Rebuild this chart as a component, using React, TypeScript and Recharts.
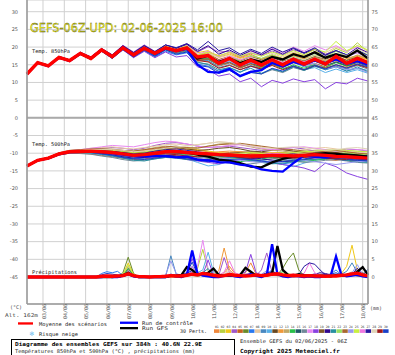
import { LineChart, Line, XAxis, YAxis, CartesianGrid, ReferenceLine } from "recharts";

// time axis: hours since 02/06 06Z, 6h step
const HOURS = [
  0, 6, 12, 18, 24, 30, 36, 42, 48, 54, 60, 66, 72, 78, 84, 90, 96, 102, 108, 114, 120, 126,
  132, 138, 144, 150, 156, 162, 168, 174, 180, 186, 192, 198, 204, 210, 216, 222, 228, 234,
  240, 246, 252, 258, 264, 270, 276, 282, 288, 294, 300, 306, 312, 318, 324, 330, 336, 342,
  348, 354, 360, 366, 372, 378, 384,
];
const DAY_TICKS = [18, 42, 66, 90, 114, 138, 162, 186, 210, 234, 258, 282, 306, 330, 354, 378];
const DAY_LABELS = [
  "03/06", "04/06", "05/06", "06/06", "07/06", "08/06", "09/06", "10/06",
  "11/06", "12/06", "13/06", "14/06", "15/06", "16/06", "17/06", "18/06",
];
const Y_TICKS = [-45, -40, -35, -30, -25, -20, -15, -10, -5, 0, 5, 10, 15, 20, 25, 30];

// temperatures every 12h (33 values)
const MEAN_850 = [12.4, 15.6, 14.7, 17.1, 16.2, 18.2, 16.8, 19.2, 17.3, 19.8, 17.8, 19.7, 18.2, 19.8, 19.0, 19.8, 17.2, 17.6, 15.4, 16.8, 14.9, 16.3, 14.9, 16.4, 15.0, 16.6, 15.2, 16.6, 15.2, 17.4, 15.4, 16.8, 15.6];
const CTRL_850 = [12.4, 15.5, 14.6, 17.0, 16.1, 18.1, 16.9, 19.1, 17.4, 19.9, 17.6, 19.8, 18.0, 19.6, 18.8, 19.5, 15.0, 13.0, 12.8, 13.8, 11.8, 13.0, 13.5, 15.5, 14.5, 15.8, 15.0, 16.2, 15.5, 16.5, 15.3, 16.0, 15.0];
const GFS_850 = [12.4, 15.6, 14.7, 17.1, 16.2, 18.2, 16.8, 19.2, 17.3, 19.8, 17.8, 19.7, 18.2, 19.8, 19.0, 19.8, 16.8, 17.5, 15.8, 16.8, 15.5, 16.5, 15.8, 17.2, 16.5, 18.0, 17.2, 18.5, 17.0, 18.0, 17.2, 19.0, 16.8];

const MEAN_500 = [-13.6, -12.0, -11.4, -10.2, -9.6, -9.5, -9.4, -9.6, -9.8, -10.2, -10.6, -10.4, -10.0, -9.6, -9.5, -9.8, -10.0, -10.2, -10.4, -10.5, -10.6, -10.8, -10.7, -10.6, -10.6, -10.8, -10.6, -10.4, -10.6, -10.9, -11.0, -11.2, -11.4];
const CTRL_500 = [-13.6, -12.0, -11.5, -10.3, -9.7, -9.6, -9.5, -9.7, -10.0, -10.4, -10.8, -10.9, -10.8, -10.8, -11.2, -11.0, -11.8, -12.0, -12.5, -12.6, -13.2, -13.6, -14.6, -15.0, -15.2, -12.8, -10.6, -11.0, -11.2, -10.8, -11.0, -11.4, -11.6];
const GFS_500 = [-13.6, -12.0, -11.4, -10.2, -9.6, -9.5, -9.4, -9.6, -9.8, -10.2, -10.6, -10.4, -10.0, -9.6, -9.5, -9.8, -10.4, -11.0, -11.8, -12.2, -12.8, -13.8, -14.0, -12.6, -11.6, -11.0, -10.6, -10.2, -10.0, -10.2, -10.4, -10.6, -11.0];

// precipitation (mm) every 6h (65 values)
const MEAN_RR = [
  0, 0, 0, 0, 0, 0, 0, 0, 0, 0, 0, 0, 0,
  0, 0.2, 0.3, 0.2, 0.3, 0.4, 0.9, 0.4, 0.1, 0.1, 0, 0.1, 0.1,
  0.2, 0.4, 0.3, 0.3, 0.5, 0.8, 0.6, 1.0, 0.8, 0.5, 0.3, 0.4, 0.7,
  0.5, 0.4, 0.3, 0.4, 0.6, 0.4, 0.5, 0.8, 0.9, 0.6, 0.4, 0.5, 0.4,
  0.3, 0.4, 0.3, 0.3, 0.2, 0.3, 0.3, 0.5, 0.6, 0.9, 1.1, 0.6, 0.3,
];
const CTRL_RR = [
  0, 0, 0, 0, 0, 0, 0, 0, 0, 0, 0, 0, 0,
  0, 0, 0.2, 0, 0, 0.3, 0.8, 0.2, 0, 0, 0, 0, 0,
  0, 0.5, 0.2, 0, 0.6, 7.5, 1.0, 0.4, 0.2, 0, 0, 0.3, 0.6,
  0.2, 0, 0.4, 0.8, 0.3, 0, 0.6, 9.3, 0.8, 0.2, 0, 0.3, 0.2,
  0, 0.2, 0, 0, 0.3, 0.4, 5.8, 0.6, 0.2, 0.4, 0.6, 0.2, 0,
];
const GFS_RR = [
  0, 0, 0, 0, 0, 0, 0, 0, 0, 0, 0, 0, 0,
  0, 0, 0, 0, 0.2, 0.5, 1.2, 0.3, 0, 0, 0, 0, 0,
  0, 0.3, 0.4, 0.6, 2.8, 2.0, 0.6, 0.8, 1.2, 2.4, 0.6, 0.3, 0.5,
  0.4, 0.6, 2.6, 1.5, 0.4, 0.3, 0.6, 1.0, 8.8, 2.0, 0.6, 0.4, 0.8,
  0.5, 0.3, 0.2, 0.4, 0.3, 0.2, 0.5, 0.4, 0.3, 0.6, 1.5, 2.8, 0.6,
];

// 30 perturbations
const PERT_COLORS = [
  "#f0883c", "#b8d040", "#f0c818", "#a058c8", "#c86020", "#688a28", "#2878f0", "#e8c8a0", "#4888c0", "#58b0e8",
  "#684820", "#f09838", "#c0a868", "#28c048", "#205868", "#708898", "#e888f0", "#8840e0", "#805828", "#300890",
  "#2890a0", "#98e060", "#a86830", "#9898f0", "#c8f040", "#f078e0", "#2818a0", "#e0d4b8", "#a01818", "#1840c8",
];

const PERT_850 = [
  [12.4, 15.7, 14.8, 17.2, 16.3, 18.4, 17.0, 19.4, 17.6, 20.0, 18.1, 19.9, 18.5, 20.1, 19.4, 20.3, 17.8, 18.2, 16.5, 17.4, 16.2, 17.0, 16.1, 17.5, 16.4, 17.8, 16.6, 17.2, 16.0, 17.3, 16.2, 17.6, 16.5],
  [12.4, 15.5, 14.6, 17.0, 16.0, 18.0, 16.6, 19.0, 17.0, 19.5, 17.5, 19.2, 17.8, 19.5, 18.4, 19.2, 16.0, 16.6, 15.0, 16.2, 15.4, 16.8, 15.6, 17.0, 16.2, 18.2, 17.0, 18.8, 17.8, 19.6, 18.4, 21.2, 18.6],
  [12.3, 15.6, 14.7, 17.1, 16.3, 18.3, 17.1, 19.3, 17.5, 20.2, 18.3, 20.0, 18.6, 20.4, 19.6, 20.6, 18.4, 19.0, 17.2, 18.0, 16.8, 17.6, 16.4, 17.8, 16.8, 18.4, 17.4, 18.6, 17.0, 18.2, 16.8, 17.4, 16.4],
  [12.5, 15.8, 14.9, 17.4, 16.4, 18.6, 17.2, 19.6, 17.8, 20.5, 18.6, 20.6, 18.8, 20.6, 19.8, 20.9, 18.6, 20.1, 18.6, 18.8, 17.2, 18.3, 17.6, 18.9, 17.8, 19.2, 18.4, 19.6, 18.0, 19.0, 17.4, 18.4, 17.0],
  [12.4, 15.4, 14.5, 16.9, 15.9, 17.9, 16.4, 18.8, 16.8, 19.4, 17.3, 19.3, 17.6, 19.3, 18.3, 19.0, 16.4, 16.0, 14.6, 15.5, 14.0, 15.3, 14.4, 15.2, 14.2, 15.6, 14.8, 15.4, 14.4, 15.8, 14.6, 15.2, 14.0],
  [12.4, 15.6, 14.8, 17.2, 16.2, 18.2, 16.8, 19.2, 17.4, 19.8, 17.9, 19.6, 18.1, 19.8, 19.0, 19.9, 17.0, 17.4, 15.8, 16.8, 15.6, 16.6, 15.2, 16.2, 15.0, 16.4, 15.6, 16.6, 15.8, 17.0, 15.8, 16.8, 15.8],
  [12.4, 15.5, 14.6, 16.9, 16.0, 18.0, 16.5, 18.9, 16.9, 19.3, 17.2, 19.0, 17.2, 18.8, 17.8, 18.4, 15.2, 14.6, 13.2, 14.2, 12.8, 14.6, 13.6, 15.4, 14.6, 16.0, 15.0, 16.2, 15.2, 16.4, 15.4, 16.0, 15.0],
  [12.4, 15.7, 14.8, 17.3, 16.4, 18.5, 17.1, 19.5, 17.7, 20.1, 18.2, 20.1, 18.4, 20.2, 19.3, 20.4, 17.6, 18.4, 17.0, 17.8, 16.4, 17.4, 16.8, 18.2, 17.2, 18.6, 17.8, 19.2, 18.4, 20.0, 18.8, 20.4, 19.0],
  [12.4, 15.5, 14.6, 17.0, 16.1, 18.1, 16.7, 19.0, 17.1, 19.6, 17.5, 19.4, 17.9, 19.6, 18.7, 19.5, 16.5, 16.2, 14.2, 15.0, 13.6, 14.8, 13.8, 15.4, 14.6, 15.8, 14.4, 15.0, 13.6, 14.4, 13.2, 14.0, 13.4],
  [12.4, 15.6, 14.7, 17.1, 16.2, 18.2, 16.9, 19.2, 17.4, 19.8, 17.8, 19.7, 18.2, 19.7, 18.9, 19.6, 16.8, 16.4, 14.8, 15.6, 14.6, 15.8, 14.8, 15.4, 13.8, 14.8, 13.6, 14.2, 12.8, 13.8, 12.8, 13.6, 12.6],
  [12.4, 15.7, 14.8, 17.2, 16.3, 18.4, 17.0, 19.3, 17.5, 20.0, 18.0, 19.8, 18.3, 20.0, 19.2, 20.1, 17.2, 17.8, 16.4, 17.2, 16.0, 17.2, 16.4, 17.6, 16.2, 17.0, 15.8, 16.8, 15.6, 16.6, 15.4, 16.6, 15.2],
  [12.4, 15.6, 14.7, 17.0, 16.1, 18.1, 16.7, 19.1, 17.2, 19.7, 17.6, 19.5, 18.0, 19.6, 18.8, 19.6, 17.4, 18.6, 17.6, 18.4, 17.0, 18.0, 16.6, 17.6, 16.6, 17.6, 16.8, 17.6, 16.6, 17.8, 16.8, 17.6, 16.6],
  [12.4, 15.5, 14.6, 17.0, 16.0, 18.0, 16.6, 19.0, 17.0, 19.5, 17.4, 19.4, 17.7, 19.4, 18.5, 19.3, 16.6, 17.0, 15.6, 16.6, 15.2, 16.2, 15.0, 16.4, 15.4, 16.8, 16.0, 17.2, 16.2, 17.2, 16.4, 17.8, 16.8],
  [12.4, 15.6, 14.8, 17.2, 16.3, 18.3, 16.9, 19.3, 17.5, 19.9, 17.9, 19.8, 18.3, 19.9, 19.1, 20.0, 17.0, 16.8, 15.4, 16.4, 14.6, 15.6, 14.2, 15.2, 13.8, 15.0, 14.0, 15.0, 14.2, 15.6, 14.6, 15.8, 14.8],
  [12.4, 15.6, 14.7, 17.1, 16.2, 18.2, 16.8, 19.2, 17.3, 19.8, 17.8, 19.7, 18.1, 19.8, 19.0, 19.8, 16.6, 16.6, 15.0, 15.8, 14.4, 15.4, 14.6, 15.8, 15.0, 16.2, 15.2, 16.0, 14.8, 15.8, 14.8, 15.6, 14.6],
  [12.4, 15.5, 14.7, 17.1, 16.1, 18.1, 16.7, 19.1, 17.2, 19.6, 17.6, 19.4, 17.8, 19.5, 18.6, 19.3, 15.8, 15.0, 13.0, 13.8, 12.0, 13.2, 12.4, 13.6, 12.8, 14.2, 13.4, 14.6, 13.8, 14.6, 13.8, 14.8, 13.8],
  [12.4, 15.7, 14.8, 17.3, 16.4, 18.5, 17.1, 19.5, 17.6, 20.2, 18.2, 20.2, 18.5, 20.3, 19.4, 20.6, 18.0, 18.8, 17.2, 18.6, 17.4, 18.8, 17.8, 19.6, 18.4, 20.0, 18.8, 20.4, 19.2, 20.4, 18.8, 20.0, 18.4],
  [12.4, 15.6, 14.7, 17.0, 16.1, 18.0, 16.6, 18.8, 16.8, 19.2, 17.0, 18.8, 17.0, 18.6, 17.2, 17.6, 14.4, 13.6, 11.8, 12.4, 10.2, 11.2, 8.8, 10.6, 9.8, 11.0, 10.2, 10.8, 8.2, 10.0, 9.6, 11.2, 10.4],
  [12.4, 15.6, 14.8, 17.2, 16.2, 18.3, 16.9, 19.3, 17.4, 19.9, 17.9, 19.7, 18.2, 19.9, 19.0, 19.9, 17.2, 17.6, 16.0, 17.0, 15.8, 16.8, 15.8, 17.0, 16.0, 17.2, 16.2, 17.4, 16.6, 17.6, 16.2, 17.2, 15.8],
  [12.4, 15.7, 14.9, 17.3, 16.4, 18.5, 17.2, 19.6, 17.8, 20.4, 18.4, 20.4, 18.6, 20.6, 19.6, 20.8, 18.8, 20.4, 18.0, 19.2, 17.6, 19.0, 17.8, 19.4, 18.0, 19.6, 18.2, 19.4, 17.6, 19.0, 17.8, 19.8, 18.4],
  [12.4, 15.5, 14.6, 16.9, 16.0, 18.0, 16.5, 18.9, 16.9, 19.4, 17.3, 19.2, 17.5, 19.2, 18.2, 18.8, 15.6, 15.2, 13.6, 14.2, 13.0, 14.0, 12.6, 13.8, 13.0, 14.4, 13.4, 14.6, 13.6, 14.6, 13.2, 14.4, 13.0],
  [12.4, 15.6, 14.7, 17.1, 16.2, 18.2, 16.8, 19.2, 17.4, 19.9, 17.9, 19.8, 18.2, 19.9, 19.2, 20.2, 17.6, 18.0, 16.2, 17.2, 16.2, 17.6, 16.8, 17.8, 16.6, 17.4, 16.4, 17.8, 17.2, 18.8, 17.6, 19.0, 17.8],
  [12.4, 15.6, 14.7, 17.0, 16.1, 18.0, 16.6, 19.0, 17.1, 19.6, 17.5, 19.4, 17.8, 19.4, 18.6, 19.4, 16.4, 16.6, 15.0, 15.6, 14.2, 15.2, 14.0, 15.0, 14.4, 15.8, 15.2, 16.4, 15.4, 16.2, 15.0, 15.8, 14.8],
  [12.4, 15.7, 14.8, 17.2, 16.3, 18.4, 17.0, 19.4, 17.6, 20.1, 18.0, 20.0, 18.3, 20.0, 19.2, 20.2, 17.4, 17.8, 15.4, 16.0, 14.6, 15.6, 14.8, 16.2, 15.6, 16.4, 15.0, 15.4, 13.8, 14.4, 13.6, 14.0, 12.8],
  [12.4, 15.6, 14.8, 17.2, 16.2, 18.3, 16.9, 19.4, 17.5, 20.1, 18.1, 20.1, 18.4, 20.3, 19.3, 20.4, 17.8, 18.6, 17.4, 18.6, 17.4, 18.4, 17.4, 18.6, 17.6, 19.0, 17.8, 19.4, 18.6, 21.6, 19.0, 20.4, 19.2],
  [12.4, 15.5, 14.6, 17.0, 16.0, 18.0, 16.6, 19.0, 17.1, 19.6, 17.6, 19.5, 17.9, 19.6, 18.7, 19.7, 17.0, 17.6, 16.2, 17.4, 16.4, 17.2, 16.0, 16.8, 15.6, 16.6, 15.8, 16.8, 15.6, 16.4, 15.4, 16.4, 15.6],
  [12.4, 15.6, 14.8, 17.2, 16.3, 18.4, 17.0, 19.4, 17.6, 20.2, 18.4, 20.4, 18.7, 20.6, 19.8, 21.0, 19.2, 21.6, 19.0, 19.8, 18.0, 19.4, 18.2, 20.0, 18.6, 19.8, 18.4, 19.8, 17.8, 19.0, 17.8, 19.2, 17.6],
  [12.4, 15.6, 14.7, 17.1, 16.2, 18.2, 16.8, 19.2, 17.3, 19.8, 17.7, 19.6, 18.0, 19.7, 18.8, 19.6, 16.8, 17.2, 15.8, 16.8, 15.8, 17.0, 16.2, 17.4, 16.2, 17.2, 16.4, 17.6, 16.8, 18.2, 17.6, 19.4, 18.2],
  [12.4, 15.5, 14.6, 17.0, 16.1, 18.1, 16.7, 19.0, 17.2, 19.7, 17.6, 19.6, 18.0, 19.7, 18.8, 19.6, 16.2, 15.8, 14.0, 14.8, 13.6, 14.6, 13.8, 14.8, 13.6, 14.6, 13.6, 14.8, 14.0, 15.0, 14.2, 15.0, 14.2],
  [12.4, 15.6, 14.7, 17.0, 16.1, 18.1, 16.6, 18.9, 16.8, 19.3, 17.2, 19.1, 17.4, 19.2, 18.0, 18.6, 14.8, 14.4, 12.6, 13.4, 11.8, 12.8, 12.4, 14.0, 13.2, 14.6, 13.6, 14.8, 13.8, 15.0, 14.0, 15.2, 14.4],
];

const PERT_500 = [
  [-13.6, -12.0, -11.3, -10.0, -9.4, -9.2, -9.0, -8.8, -9.0, -9.4, -9.6, -9.2, -8.8, -8.4, -8.6, -9.0, -9.2, -9.6, -10.0, -9.8, -9.6, -9.8, -10.2, -10.0, -9.8, -10.2, -10.4, -10.0, -9.6, -9.8, -10.2, -10.4, -10.6],
  [-13.6, -12.1, -11.5, -10.3, -9.7, -9.6, -9.6, -9.9, -10.2, -10.8, -11.2, -11.0, -10.6, -10.2, -10.0, -10.4, -10.6, -10.8, -10.6, -10.2, -9.8, -10.0, -10.4, -10.2, -9.8, -9.6, -9.4, -9.2, -9.0, -9.4, -9.8, -9.6, -9.4],
  [-13.6, -12.0, -11.4, -10.1, -9.5, -9.3, -9.1, -9.2, -9.4, -9.6, -10.0, -9.8, -9.2, -8.8, -8.4, -8.6, -9.0, -9.4, -9.8, -10.2, -10.6, -10.4, -10.0, -9.8, -10.0, -10.6, -11.0, -10.8, -10.4, -10.2, -10.4, -10.8, -11.0],
  [-13.6, -11.9, -11.3, -10.0, -9.3, -9.1, -8.8, -8.6, -8.4, -8.6, -9.0, -8.6, -7.8, -7.2, -7.0, -7.4, -8.0, -8.4, -8.2, -8.0, -8.4, -8.8, -9.2, -9.0, -8.6, -8.4, -8.8, -9.4, -9.6, -9.2, -8.8, -9.0, -9.4],
  [-13.6, -12.1, -11.6, -10.5, -10.0, -10.0, -10.2, -10.6, -11.0, -11.4, -11.8, -11.6, -11.2, -10.8, -10.6, -10.8, -11.0, -11.4, -11.2, -11.0, -11.4, -11.8, -12.0, -11.6, -11.2, -11.0, -11.2, -11.6, -11.8, -12.0, -11.6, -11.4, -11.2],
  [-13.6, -12.0, -11.4, -10.2, -9.6, -9.5, -9.3, -9.4, -9.6, -10.0, -10.4, -10.0, -9.6, -9.4, -9.2, -9.6, -10.2, -10.6, -10.8, -11.0, -10.6, -10.2, -10.4, -10.8, -11.2, -11.4, -11.0, -10.6, -10.4, -10.8, -11.2, -11.6, -12.0],
  [-13.6, -12.0, -11.5, -10.4, -9.8, -9.8, -9.9, -10.2, -10.6, -11.2, -11.6, -11.4, -11.0, -10.8, -11.0, -11.6, -12.0, -12.2, -11.8, -11.4, -11.6, -12.0, -12.4, -12.8, -13.0, -12.6, -12.0, -11.6, -11.2, -11.0, -11.4, -11.8, -12.0],
  [-13.6, -11.9, -11.2, -9.9, -9.2, -9.0, -8.6, -8.4, -8.2, -8.6, -8.8, -8.4, -8.0, -7.6, -7.4, -7.8, -7.6, -7.2, -6.8, -7.0, -7.4, -7.8, -8.2, -8.6, -9.0, -9.4, -9.0, -8.6, -8.4, -8.8, -9.2, -9.6, -10.0],
  [-13.6, -12.0, -11.4, -10.3, -9.7, -9.7, -9.8, -10.0, -10.4, -10.8, -11.0, -10.8, -10.4, -10.2, -10.4, -10.8, -11.2, -11.0, -10.8, -11.2, -11.8, -12.2, -12.0, -11.6, -11.8, -12.4, -12.2, -11.8, -11.4, -11.2, -11.6, -12.0, -12.4],
  [-13.6, -12.1, -11.5, -10.4, -9.9, -9.9, -10.0, -10.4, -10.8, -11.2, -11.4, -11.0, -10.6, -10.6, -11.0, -11.6, -12.6, -13.6, -13.2, -12.2, -11.8, -11.6, -12.0, -12.6, -13.2, -13.8, -12.8, -12.0, -11.6, -11.4, -11.2, -11.0, -11.4],
  [-13.6, -12.0, -11.4, -10.2, -9.6, -9.4, -9.2, -9.2, -9.4, -9.8, -10.0, -9.6, -9.0, -8.6, -8.4, -8.8, -9.2, -9.0, -8.6, -8.4, -8.8, -9.4, -9.6, -9.2, -9.0, -9.4, -9.8, -10.2, -10.0, -9.8, -10.2, -10.6, -10.8],
  [-13.6, -12.0, -11.3, -10.1, -9.5, -9.4, -9.3, -9.5, -9.8, -10.2, -10.6, -10.4, -10.0, -9.8, -9.8, -10.0, -10.2, -10.0, -9.6, -9.4, -9.6, -10.0, -10.4, -10.6, -10.4, -10.2, -10.0, -9.8, -10.0, -10.4, -10.6, -10.4, -10.2],
  [-13.6, -11.9, -11.3, -10.0, -9.4, -9.2, -8.9, -8.8, -8.8, -9.2, -9.4, -9.0, -8.4, -8.0, -8.2, -8.6, -8.4, -8.0, -7.4, -7.2, -7.6, -8.2, -8.8, -9.2, -9.4, -9.8, -10.2, -10.0, -9.6, -9.4, -9.6, -10.0, -10.4],
  [-13.6, -12.0, -11.5, -10.3, -9.7, -9.6, -9.5, -9.8, -10.0, -10.4, -10.8, -10.6, -10.2, -10.0, -10.2, -10.6, -11.0, -11.2, -11.6, -12.0, -12.4, -12.0, -11.6, -11.2, -11.4, -11.8, -12.2, -12.0, -11.6, -11.4, -11.0, -10.8, -11.0],
  [-13.6, -12.0, -11.4, -10.2, -9.6, -9.5, -9.4, -9.6, -9.8, -10.2, -10.6, -10.4, -10.0, -9.8, -10.0, -10.2, -10.4, -10.6, -10.8, -11.0, -11.2, -11.4, -11.2, -11.0, -11.2, -11.6, -11.8, -11.6, -11.2, -11.0, -11.2, -11.6, -11.8],
  [-13.6, -12.1, -11.6, -10.5, -10.0, -10.1, -10.3, -10.8, -11.2, -11.8, -12.2, -12.0, -11.6, -11.2, -11.0, -11.4, -11.8, -12.0, -12.4, -12.8, -13.2, -13.0, -12.6, -12.2, -12.0, -12.2, -12.6, -12.4, -12.0, -11.8, -12.2, -12.6, -12.8],
  [-13.6, -11.9, -11.3, -10.0, -9.3, -9.0, -8.6, -8.2, -7.8, -8.0, -8.2, -7.6, -7.0, -6.6, -6.8, -7.4, -8.0, -8.4, -8.2, -7.8, -7.6, -8.0, -8.6, -9.0, -8.8, -8.4, -8.2, -8.6, -9.0, -9.4, -9.2, -9.0, -9.2],
  [-13.6, -12.0, -11.4, -10.2, -9.6, -9.6, -9.6, -9.8, -10.2, -10.6, -11.0, -11.2, -11.0, -10.8, -11.2, -11.8, -12.2, -12.6, -13.0, -12.4, -11.8, -11.6, -12.2, -12.8, -13.2, -13.6, -14.2, -15.2, -12.8, -13.8, -15.6, -16.6, -17.4],
  [-13.6, -12.0, -11.4, -10.1, -9.5, -9.3, -9.1, -9.0, -9.2, -9.6, -9.8, -9.6, -9.2, -9.0, -9.2, -9.6, -9.8, -10.0, -10.2, -10.0, -9.8, -9.6, -9.8, -10.2, -10.6, -10.8, -10.6, -10.4, -10.6, -11.0, -11.4, -11.2, -11.0],
  [-13.6, -12.1, -11.5, -10.4, -9.8, -9.8, -9.8, -10.1, -10.5, -11.0, -11.4, -11.2, -10.8, -10.6, -10.8, -11.2, -11.6, -11.8, -12.0, -11.8, -11.4, -11.2, -11.6, -12.0, -12.4, -12.2, -11.8, -11.4, -11.2, -11.6, -12.0, -12.2, -12.0],
  [-13.6, -12.0, -11.5, -10.3, -9.8, -9.8, -9.9, -10.3, -10.8, -11.4, -12.0, -12.2, -11.6, -11.2, -11.4, -11.8, -12.0, -11.6, -11.2, -11.0, -11.4, -12.0, -12.6, -13.0, -12.8, -12.4, -12.0, -11.6, -11.4, -11.6, -12.0, -12.4, -12.6],
  [-13.6, -12.0, -11.4, -10.2, -9.6, -9.4, -9.2, -9.4, -9.6, -10.0, -10.2, -10.0, -9.6, -9.4, -9.6, -10.0, -10.4, -10.8, -11.2, -11.6, -11.4, -11.0, -10.6, -10.4, -10.6, -11.0, -11.2, -11.0, -10.6, -10.2, -10.0, -10.2, -10.4],
  [-13.6, -11.9, -11.2, -9.9, -9.2, -9.0, -8.8, -8.8, -9.0, -9.2, -9.4, -9.0, -8.6, -8.2, -8.0, -8.4, -8.6, -8.0, -7.6, -7.4, -7.2, -7.6, -8.0, -8.4, -8.8, -9.0, -9.4, -9.8, -9.4, -9.2, -9.6, -10.0, -10.2],
  [-13.6, -12.0, -11.4, -10.2, -9.6, -9.5, -9.4, -9.6, -9.8, -10.2, -10.6, -10.6, -10.4, -10.2, -10.4, -10.8, -11.0, -11.2, -11.4, -11.6, -12.0, -12.4, -12.6, -12.2, -11.8, -11.6, -12.0, -12.4, -12.8, -13.2, -12.8, -12.4, -12.2],
  [-13.6, -12.0, -11.4, -10.2, -9.5, -9.3, -9.0, -9.0, -9.2, -9.6, -9.8, -9.6, -9.2, -9.0, -9.2, -9.6, -10.0, -10.4, -10.6, -10.4, -10.0, -9.8, -10.0, -10.4, -10.2, -9.8, -9.6, -9.4, -9.2, -9.0, -9.2, -9.4, -9.6],
  [-13.6, -12.0, -11.4, -10.2, -9.7, -9.6, -9.5, -9.7, -10.0, -10.4, -10.6, -10.2, -9.8, -9.6, -9.6, -10.0, -10.2, -10.4, -10.6, -10.8, -11.0, -10.8, -10.4, -10.0, -10.2, -10.6, -11.0, -11.4, -11.2, -10.8, -10.6, -10.8, -11.0],
  [-13.6, -12.0, -11.4, -10.2, -9.6, -9.4, -9.2, -9.3, -9.5, -9.8, -10.2, -10.0, -9.4, -9.0, -8.8, -9.2, -9.6, -10.0, -10.4, -10.8, -11.2, -11.6, -11.2, -10.8, -10.4, -10.2, -10.6, -11.0, -11.4, -11.6, -11.2, -10.8, -10.6],
  [-13.6, -11.9, -11.3, -10.0, -9.4, -9.2, -9.0, -9.0, -9.0, -9.2, -9.6, -9.4, -9.0, -8.6, -8.2, -8.0, -7.6, -7.2, -6.8, -7.0, -7.4, -8.0, -8.4, -8.6, -8.4, -8.2, -8.4, -8.8, -9.2, -9.0, -8.6, -8.4, -8.8],
  [-13.6, -12.0, -11.5, -10.3, -9.7, -9.6, -9.6, -9.8, -10.0, -10.4, -10.8, -10.8, -10.4, -10.2, -10.4, -10.8, -11.0, -10.8, -10.6, -10.8, -11.2, -11.4, -11.2, -11.0, -11.2, -11.4, -11.2, -11.0, -11.2, -11.6, -11.8, -11.6, -11.4],
  [-13.6, -12.1, -11.5, -10.4, -9.8, -9.8, -9.8, -10.2, -10.6, -11.2, -11.6, -11.8, -11.4, -11.0, -11.2, -11.6, -12.0, -12.4, -12.2, -11.8, -11.6, -11.8, -12.2, -12.6, -12.4, -12.0, -11.6, -11.2, -11.0, -11.2, -11.6, -12.0, -12.2],
];

const Z13 = [0, 0, 0, 0, 0, 0, 0, 0, 0, 0, 0, 0, 0];
const PERT_RR = [
  [...Z13, 0, 0, 0, 0, 0, 0.3, 1.5, 0.4, 0, 0, 0, 0, 0, 0, 0, 0.2, 0.5, 0.4, 0.6, 0.3, 0.8, 0.5, 0.2, 0, 1.2, 3.0, 1.0, 0.3, 1.2, 4.0, 0.8, 0.2, 0.4, 1.5, 0.6, 0.3, 0.2, 0.4, 0.2, 0, 0.2, 0.4, 0, 0, 0.3, 0.5, 0.3, 0.8, 1.4, 0.6, 0.3, 0],
  [...Z13, 0, 0, 0, 0, 0, 0.2, 2.0, 0.5, 0, 0, 0, 0, 0, 0, 0.3, 0.2, 0, 0.4, 1.0, 2.4, 7.8, 1.6, 0.4, 0, 0.3, 0.5, 0.2, 0, 0.3, 0.6, 0.2, 0, 0.4, 0.8, 1.2, 0.6, 0.3, 0.2, 0.4, 0.2, 0, 0.3, 0.6, 0.2, 0, 0.4, 0.6, 0.3, 0.8, 1.2, 0.4, 0.2],
  [...Z13, 0, 0, 0, 0, 0, 0.6, 4.0, 0.8, 0, 0, 0, 0, 0, 0, 0.2, 0, 0, 0.3, 0.8, 0.4, 0.6, 0.3, 0.5, 0.2, 0.6, 1.0, 0.6, 0.2, 0.4, 0.2, 0.6, 0.3, 0.2, 0.5, 0.4, 0.2, 0.6, 0.4, 0.2, 0, 0.3, 0.2, 0.4, 0, 0.2, 0.6, 1.0, 3.0, 9.0, 2.0, 0.6, 0.3],
  [...Z13, 0, 0, 0, 0, 0, 0.3, 2.0, 0.4, 0, 0, 0, 0, 0, 0, 0.4, 0.3, 0.2, 0.8, 1.6, 0.6, 0.4, 1.2, 0.8, 0.5, 5.5, 1.2, 0.4, 0.2, 0.6, 0.8, 0.4, 2.0, 6.8, 1.4, 0.5, 0.3, 0.2, 0.4, 0.6, 0.3, 0.2, 0.4, 0.2, 0.3, 0.2, 0.6, 0.4, 0.2, 0.5, 0.8, 0.4, 0.2],
  [...Z13, 0, 0, 0, 0, 0, 0.2, 0.8, 0.3, 0, 0, 0, 0, 0, 0, 0, 0, 0.3, 0.5, 0.4, 0.2, 0.6, 0.4, 0.2, 0, 0.4, 0.8, 0.5, 0.3, 0.6, 0.4, 0.2, 0, 0.3, 0.6, 1.0, 0.4, 0.2, 0, 0.2, 0, 0.2, 0.3, 0, 0.2, 0.4, 0.3, 0.2, 0.4, 0.6, 0.3, 0.2, 0],
  [...Z13, 0, 0, 0, 0, 0, 1.2, 5.6, 1.0, 0, 0, 0, 0, 0, 0, 0.2, 0.3, 0, 0.2, 0.6, 0.4, 0.6, 0.5, 0.3, 0, 0.4, 0.6, 0.3, 0.2, 0.4, 0.6, 0.2, 0.3, 0.6, 0.8, 0.6, 2.5, 5.0, 6.8, 2.0, 0.4, 0.2, 0, 0.3, 0.2, 0, 0.3, 0.4, 0.2, 0.5, 0.8, 0.3, 0.2],
  [...Z13, 0, 1.0, 1.5, 1.2, 1.6, 0.4, 0.6, 0.2, 0, 0, 0, 0, 0, 0, 0.6, 0.3, 0, 0.5, 3.0, 0.8, 0.4, 0.6, 0.3, 0.2, 0.4, 0.3, 0.2, 0, 0.3, 0.5, 0.2, 0.4, 1.0, 2.0, 0.6, 0.2, 0, 0.3, 0.2, 0, 0.2, 0, 0.4, 0.6, 0.8, 2.0, 0.6, 0.3, 0.4, 0.6, 0.3, 0.2],
  [...Z13, 0, 0, 0, 0, 0, 0.2, 1.0, 0.3, 0, 0, 0, 0, 0, 0, 0, 0.2, 0.4, 0.2, 0.6, 0.3, 0.8, 0.4, 0.2, 0.6, 1.2, 2.0, 0.6, 0.3, 0.4, 0.2, 0.6, 0.3, 0.2, 0.5, 0.4, 0.3, 0.2, 0.2, 0.3, 0.2, 0, 0.3, 0.2, 0, 0.3, 0.4, 0.3, 0.2, 0.5, 2.2, 0.6, 0.2],
  [...Z13, 0, 0, 0, 0, 0, 0.3, 1.2, 0.3, 0, 0, 0, 0, 0, 0, 6.0, 0.8, 0.3, 0.4, 0.6, 0.3, 1.0, 0.6, 0.3, 0, 0.4, 0.6, 0.3, 0.2, 0.5, 0.4, 0.3, 0.2, 0.4, 0.6, 0.8, 0.4, 0.2, 0.3, 0.2, 0, 0.3, 0.2, 0, 0.2, 0.4, 0.6, 0.8, 1.6, 4.0, 1.2, 0.4, 0.2],
  [...Z13, 0, 0, 0, 0, 0, 0.2, 0.8, 0.2, 0, 0, 0, 0, 0, 0, 0.4, 0.2, 0.3, 0.6, 0.8, 1.2, 2.0, 7.0, 1.4, 0.3, 0.2, 0.6, 0.4, 0.2, 0.3, 0.5, 0.4, 0.2, 0.3, 0.6, 0.4, 0.2, 0.3, 0.4, 0.2, 0.3, 0.2, 0, 0.4, 0.6, 0.3, 0.4, 0.6, 0.8, 1.2, 0.8, 0.4, 0.2],
  [...Z13, 0, 0, 0, 0, 0, 0.4, 2.4, 0.6, 0, 0, 0, 0, 0, 0, 0.2, 0.3, 0.4, 0.8, 1.4, 0.5, 0.6, 0.4, 0.3, 0.2, 0.5, 0.8, 0.5, 0.3, 0.6, 0.8, 0.4, 0.3, 0.5, 1.2, 0.8, 0.4, 0.3, 0.2, 0.4, 0.3, 0.2, 0.2, 0.3, 0.2, 0.4, 0.3, 0.2, 0.3, 0.5, 0.6, 1.2, 0.4],
  [...Z13, 0, 0, 0, 0, 0, 0.3, 1.0, 0.3, 0, 0, 0, 0, 0, 0, 0.3, 0.2, 0, 0.3, 0.6, 0.4, 0.6, 0.3, 0.6, 1.8, 8.2, 2.0, 0.6, 0.3, 0.8, 1.2, 0.4, 0.3, 0.6, 0.8, 0.4, 0.3, 0.2, 0.5, 0.3, 0.2, 0.3, 0.2, 0.4, 0.2, 0.3, 0.4, 0.6, 0.3, 0.8, 1.0, 0.4, 0.2],
  [...Z13, 0, 0, 0, 0, 0, 0.5, 3.0, 0.6, 0, 0, 0, 0, 0, 0, 0.2, 0.2, 0.3, 0.4, 0.5, 0.3, 0.8, 0.5, 0.2, 0.3, 0.6, 1.2, 0.4, 0.3, 0.5, 0.6, 0.3, 0.2, 0.5, 0.4, 0.6, 0.3, 0.2, 0.3, 0.2, 0.3, 0.2, 0.3, 0.2, 0.3, 0.2, 0.4, 0.3, 0.6, 0.8, 0.5, 0.3, 0.2],
  [...Z13, 0, 0, 0, 0, 0, 0.4, 2.4, 0.5, 0, 0, 0, 0, 0, 0, 0.3, 0.2, 0.3, 0.6, 0.8, 0.6, 1.2, 0.8, 0.4, 0.2, 0.4, 0.5, 0.3, 0.2, 0.4, 0.3, 0.6, 0.4, 0.8, 1.0, 0.6, 1.6, 0.8, 0.4, 0.3, 0.2, 0.3, 0.2, 0, 0.3, 0.4, 0.3, 0.6, 0.5, 0.8, 0.6, 0.3, 0.2],
  [...Z13, 0, 0, 0, 0, 0, 0.2, 0.6, 0.2, 0, 0, 0, 0, 0, 0, 0.2, 0, 0.2, 0.4, 0.6, 0.3, 0.5, 0.3, 0.2, 0, 0.3, 0.4, 0.2, 0.3, 0.2, 0.4, 0.3, 0.2, 0.4, 0.6, 0.5, 0.3, 0.2, 0.3, 0.2, 0.2, 0, 0.2, 0.3, 0.2, 0.3, 0.4, 0.3, 0.5, 0.6, 0.4, 0.2, 0],
  [...Z13, 0, 0, 0, 0, 0, 0.2, 0.7, 0.2, 0, 0, 0, 0, 0, 0, 0.4, 0.3, 0.2, 0.8, 1.2, 0.4, 0.6, 0.5, 0.3, 0.2, 0.4, 0.3, 0.2, 0.4, 0.3, 0.6, 0.4, 0.3, 0.8, 1.4, 0.6, 0.4, 0.3, 0.2, 0.3, 0.2, 0.3, 0.2, 0.4, 0.6, 0.3, 0.8, 0.4, 0.3, 0.5, 0.6, 0.3, 0.2],
  [...Z13, 0, 0, 0, 0, 0, 0.3, 1.8, 0.4, 0, 0, 0, 0, 0, 0, 0.8, 0.4, 0.3, 0.6, 1.4, 3.0, 10.4, 2.2, 0.6, 0.4, 0.8, 1.6, 0.6, 0.4, 0.8, 1.0, 0.6, 0.4, 0.6, 0.8, 0.5, 0.4, 0.3, 0.6, 0.4, 0.3, 0.6, 0.4, 0.3, 0.4, 0.3, 0.5, 0.4, 0.6, 1.0, 0.8, 0.4, 0.2],
  [...Z13, 0, 0, 0, 0, 0, 0.4, 1.6, 0.5, 0, 0, 0, 0, 0, 0, 0.6, 0.4, 0.3, 1.2, 5.2, 1.0, 0.8, 4.8, 0.6, 0.4, 0.6, 0.5, 0.4, 0.8, 1.4, 6.4, 1.2, 0.6, 0.8, 1.0, 0.6, 0.4, 0.6, 0.8, 0.5, 0.4, 0.6, 0.8, 0.4, 0.3, 0.5, 0.6, 0.4, 0.3, 0.6, 0.8, 0.4, 0.3],
  [...Z13, 0, 0, 0, 0, 0, 0.3, 1.4, 0.3, 0, 0, 0, 0, 0, 0, 0.2, 0.3, 0.2, 0.5, 0.6, 0.4, 0.7, 0.4, 0.3, 0.2, 0.5, 0.8, 0.4, 0.3, 0.4, 0.6, 0.3, 0.2, 0.6, 0.8, 0.6, 0.3, 0.2, 0.3, 0.4, 0.3, 0.2, 0.3, 0.2, 0.2, 0.3, 0.4, 0.3, 0.4, 0.6, 0.5, 0.3, 0.2],
  [...Z13, 0, 0, 0, 0, 0, 0.2, 0.9, 0.3, 0, 0, 0, 0, 0, 0, 0.3, 0.4, 0.6, 1.0, 1.8, 0.6, 0.5, 0.4, 0.3, 0.2, 0.4, 0.6, 0.4, 0.3, 0.6, 0.8, 0.4, 0.6, 1.2, 1.6, 0.8, 0.4, 0.3, 0.4, 0.3, 0.4, 0.6, 0.8, 1.2, 1.0, 0.6, 0.4, 0.3, 0.4, 0.8, 2.5, 0.6, 0.3],
  [...Z13, 0, 0, 0, 0, 0, 0.2, 0.8, 0.2, 0, 0, 0, 0, 0, 0, 0.3, 0.2, 0, 0.3, 0.8, 0.4, 1.2, 2.4, 0.6, 0.3, 0.2, 0.4, 0.3, 0.2, 0.4, 0.3, 0.2, 0.3, 0.6, 0.8, 0.5, 0.3, 0.2, 0.3, 0.2, 0.2, 0.3, 0.2, 0.3, 0.2, 0.4, 0.6, 0.4, 0.3, 0.6, 0.8, 3.0, 0.6],
  [...Z13, 0, 0, 0, 0, 0, 0.3, 1.6, 0.3, 0, 0, 0, 0, 0, 0, 0.2, 0.2, 0.3, 0.4, 0.8, 0.6, 1.4, 0.8, 0.4, 0.3, 0.4, 0.6, 0.4, 0.2, 0.3, 0.5, 0.3, 0.2, 0.4, 0.6, 0.8, 1.2, 0.6, 0.4, 0.3, 0.2, 0.3, 0.2, 0.3, 0.4, 0.6, 0.4, 0.3, 0.5, 0.8, 1.0, 0.4, 0.2],
  [...Z13, 0, 0, 0, 0, 0, 0.2, 1.0, 0.3, 0, 0, 0, 0, 0, 0, 0.2, 0.3, 0.2, 0.4, 0.6, 0.3, 0.5, 0.4, 0.3, 0.2, 0.4, 0.6, 0.3, 0.2, 0.4, 0.6, 0.4, 0.2, 0.3, 0.6, 0.5, 0.3, 0.2, 0.2, 0.3, 0.2, 0.3, 0.2, 0.3, 0.2, 0.3, 0.4, 0.3, 0.4, 0.5, 0.4, 0.2, 0.2],
  [...Z13, 0, 0, 0, 0, 0, 0.2, 0.8, 0.3, 0, 0, 0, 0, 0, 0.6, 4.5, 1.0, 0.4, 0.8, 1.6, 0.6, 0.8, 0.6, 0.4, 0.3, 0.6, 0.8, 0.4, 0.6, 0.8, 0.6, 0.4, 0.8, 1.8, 1.2, 0.6, 0.4, 0.3, 0.4, 0.3, 0.2, 0.4, 0.3, 0.4, 0.6, 0.3, 0.8, 0.6, 0.4, 1.2, 3.5, 0.8, 0.3],
  [...Z13, 0, 0, 0, 0, 0, 0.6, 3.5, 0.7, 0, 0, 0, 0, 0, 0, 0.2, 0.3, 0.2, 0.4, 0.6, 0.5, 0.8, 0.5, 0.3, 0.2, 0.4, 0.5, 0.3, 0.2, 0.4, 0.3, 0.2, 0.3, 0.4, 0.6, 0.4, 0.6, 1.0, 0.5, 0.3, 0.2, 0.3, 0.2, 0.3, 0.4, 0.3, 0.4, 0.5, 0.6, 0.8, 0.6, 0.3, 0.2],
  [...Z13, 0, 0, 0, 0, 0, 0.3, 1.4, 0.4, 0, 0, 0, 0, 0, 0, 0.4, 0.3, 0.6, 1.2, 3.0, 0.8, 1.2, 0.8, 0.6, 0.5, 1.4, 4.6, 1.2, 0.6, 0.4, 0.6, 0.5, 0.4, 0.6, 0.8, 0.6, 0.5, 0.3, 0.4, 0.6, 1.0, 4.0, 1.2, 0.4, 0.3, 0.4, 0.6, 0.5, 0.4, 0.6, 0.8, 0.4, 0.2],
  [...Z13, 0, 0, 0, 0, 0, 0.2, 0.6, 0.2, 0, 0, 0, 0, 0, 0, 0.3, 0.2, 0.3, 0.4, 0.6, 0.4, 0.6, 0.4, 0.3, 0.2, 0.3, 0.4, 0.3, 0.2, 0.4, 0.3, 0.2, 0.3, 0.5, 0.6, 0.4, 0.3, 0.2, 0.3, 0.6, 3.0, 4.0, 3.6, 2.0, 0.6, 0.4, 0.5, 0.4, 0.3, 0.6, 0.8, 0.4, 0.2],
  [...Z13, 0, 0, 0, 0, 0, 0.2, 0.9, 0.2, 0, 0, 0, 0, 0, 0, 0.2, 0.2, 0.3, 0.3, 0.5, 0.3, 0.6, 0.4, 0.2, 0.3, 0.8, 1.4, 0.5, 0.3, 0.4, 0.3, 0.2, 0.3, 0.4, 0.5, 0.3, 0.2, 0.3, 0.2, 0.3, 0.2, 0.3, 0.2, 0.2, 0.3, 0.2, 0.3, 0.4, 0.5, 0.6, 0.4, 0.2, 0.2],
  [...Z13, 0, 0, 0, 0, 0, 0.2, 0.7, 0.2, 0, 0, 0, 0, 0, 0, 0.2, 0.3, 0.2, 0.5, 0.6, 0.4, 0.6, 0.4, 0.3, 0.2, 0.3, 0.5, 0.3, 0.2, 0.3, 0.4, 0.3, 0.2, 0.4, 0.6, 0.5, 0.3, 0.2, 0.3, 0.2, 0.2, 0.3, 0.2, 0.3, 0.2, 0.3, 0.4, 0.3, 0.4, 0.5, 0.4, 0.3, 0.2],
  [...Z13, 0, 0.6, 1.0, 0.8, 0.6, 0.3, 0.8, 0.3, 0, 0, 0, 0, 0, 0, 0.8, 0.5, 0.6, 1.2, 4.2, 0.8, 0.6, 0.5, 0.4, 0.3, 0.5, 0.6, 0.4, 0.3, 0.5, 0.6, 0.4, 0.5, 0.8, 1.4, 0.6, 0.4, 0.3, 0.4, 0.3, 0.3, 0.4, 0.3, 0.4, 0.6, 0.8, 1.2, 0.6, 0.4, 0.6, 0.8, 0.6, 2.2],
];

const RR_BASE = -45; // precipitation 0 mm sits on the -45 line
const Y_DOMAIN = [-52.63, 33.31];

const data = HOURS.map((h, i) => {
  const row: Record<string, number | null> = { h };
  const k = i % 2 === 0 ? i / 2 : -1;
  const t = (arr: number[]) => (k >= 0 ? arr[k] : null);
  row.am = t(MEAN_850);
  row.ac = t(CTRL_850);
  row.ag = t(GFS_850);
  row.bm = t(MEAN_500);
  row.bc = t(CTRL_500);
  row.bg = t(GFS_500);
  row.cm = RR_BASE + MEAN_RR[i];
  row.cc = RR_BASE + CTRL_RR[i];
  row.cg = RR_BASE + GFS_RR[i];
  PERT_850.forEach((p, j) => (row[`a${j}`] = t(p)));
  PERT_500.forEach((p, j) => (row[`b${j}`] = t(p)));
  PERT_RR.forEach((p, j) => (row[`c${j}`] = RR_BASE + p[i]));
  return row;
});

const SANS = "'DejaVu Sans', sans-serif";
const MONO = "'DejaVu Sans Mono', monospace";

const LeftTick = (props: any) => (
  <text x={18} y={props.y + 1.8} textAnchor="end" fontSize={5} fill="#555" fontFamily={SANS}>
    {props.payload.value}
  </text>
);
const RightTick = (props: any) => (
  <text x={371.5} y={props.y + 1.8} textAnchor="start" fontSize={5} fill="#555" fontFamily={SANS}>
    {props.payload.value + 45}
  </text>
);
const DateTick = (props: any) => {
  const idx = DAY_TICKS.indexOf(props.payload.value);
  return (
    <text transform={`translate(${props.x + 2.7},304) rotate(-90)`} textAnchor="end" fontSize={5} fill="#555" fontFamily={MONO}>
      {DAY_LABELS[idx]}
    </text>
  );
};

const txt = (x: number, y: number, s: string, len: number, size = 5.2, bold = false, fill = "#222") => (
  <text x={x} y={y} fontSize={size} fontFamily={MONO} fontWeight={bold ? 700 : 400} fill={fill}
    textLength={len} lengthAdjust="spacingAndGlyphs">{s}</text>
);

export default function App() {
  const pertLines = (prefix: string) =>
    PERT_COLORS.map((c, j) => (
      <Line key={prefix + j} yAxisId="l" dataKey={`${prefix}${j}`} stroke={c} strokeWidth={1}
        dot={false} connectNulls isAnimationActive={false} type="linear" />
    ));
  const main = (key: string, color: string, w: number) => (
    <Line key={key} yAxisId="l" dataKey={key} stroke={color} strokeWidth={w}
      dot={false} connectNulls isAnimationActive={false} type="linear" />
  );

  return (
    <div style={{ position: "absolute", left: 0, top: 0, width: 395, height: 355, background: "#fff", overflow: "hidden" }}>
      <LineChart width={395} height={355} data={data} margin={{ top: 0, right: 0, left: 0, bottom: 0 }}>
        <CartesianGrid yAxisId="l" stroke="#d0d0d0" strokeWidth={1} />
        <XAxis dataKey="h" type="number" domain={[0, 384]} ticks={DAY_TICKS} height={51}
          tick={<DateTick />} tickLine={false} axisLine={{ stroke: "#999", strokeWidth: 1.5 }} interval={0} />
        <YAxis yAxisId="l" width={27} domain={Y_DOMAIN} ticks={Y_TICKS} allowDataOverflow
          tick={<LeftTick />} tickLine={false} axisLine={{ stroke: "#999", strokeWidth: 1.5 }} interval={0} />
        <YAxis yAxisId="r" orientation="right" width={27} domain={Y_DOMAIN} ticks={Y_TICKS} allowDataOverflow
          tick={<RightTick />} tickLine={false} axisLine={{ stroke: "#999", strokeWidth: 1.5 }} interval={0} />
        <ReferenceLine yAxisId="l" y={0} stroke="#aaa" strokeWidth={2} />
        {pertLines("a")}
        {pertLines("b")}
        {pertLines("c")}
        {main("ag", "#000", 2.3)}
        {main("bg", "#000", 2.3)}
        {main("cg", "#000", 2.3)}
        {main("ac", "#0000ff", 2.3)}
        {main("bc", "#0000ff", 2.3)}
        {main("cc", "#0000ff", 2.3)}
        {main("am", "#ff0000", 3.4)}
        {main("bm", "#ff0000", 3.4)}
        {main("cm", "#ff0000", 3.4)}
      </LineChart>

      <svg width={395} height={355} style={{ position: "absolute", left: 0, top: 0, pointerEvents: "none" }}>
        <text x={30} y={31.5} fontSize={13} fontFamily={SANS} fill="#ffff20" stroke="#4a4a10" strokeWidth={0.35}
          textLength={193} lengthAdjust="spacingAndGlyphs">GEFS-06Z-UPD: 02-06-2025 16:00</text>

        {txt(32, 52.5, "Temp. 850hPa", 38)}
        {txt(32, 146, "Temp. 500hPa", 38)}
        {txt(32, 273.5, "Précipitations", 45)}

        {txt(10, 309, "(°C)", 12, 5, false, "#444")}
        {txt(5, 317, "Alt. 162m", 33, 5, false, "#444")}
        {txt(370, 310, "(mm)", 12, 5, false, "#444")}

        <rect x={18} y={322.3} width={15} height={2.3} fill="#ff0000" />
        {txt(39, 325.5, "Moyenne des scénarios", 68)}
        <rect x={120} y={321.6} width={18} height={2.3} fill="#0000ff" />
        {txt(142, 325, "Run de contrôle", 51)}
        <rect x={120} y={327} width={18} height={2.3} fill="#000" />
        {txt(142, 330.2, "Run GFS", 26)}
        <text x={29} y={336} fontSize={6.5} fill="#70c0f0" fontFamily={SANS}>❄</text>
        {txt(39, 335.8, "Risque neige", 39)}
        {txt(180, 333, "30 Perts.", 27)}

        {PERT_COLORS.map((c, j) => (
          <g key={c + j}>
            <text x={214 + j * 5.83 + 2.8} y={327.6} fontSize={3.2} fontFamily={MONO} fill="#333" textAnchor="middle">
              {String(j + 1).padStart(2, "0")}
            </text>
            <rect x={214 + j * 5.83} y={329.3} width={5.5} height={3.6} fill={c} />
          </g>
        ))}

        <rect x={11.5} y={339.5} width={223} height={20} fill="#fff" stroke="#000" strokeWidth={1} />
        {txt(15, 346, "Diagramme des ensembles GEFS sur 384h : 40.6N 22.9E", 187, 5.4, true, "#000")}
        {txt(15, 352.8, "Températures 850hPa et 500hPa (°C) , précipitations (mm)", 180, 5, false, "#222")}
        {txt(240, 342.5, "Ensemble GEFS du 02/06/2025 - 06Z", 107, 5, false, "#222")}
        {txt(240, 353, "Copyright 2025 Meteociel.fr", 100, 5.6, true, "#000")}
      </svg>
    </div>
  );
}
